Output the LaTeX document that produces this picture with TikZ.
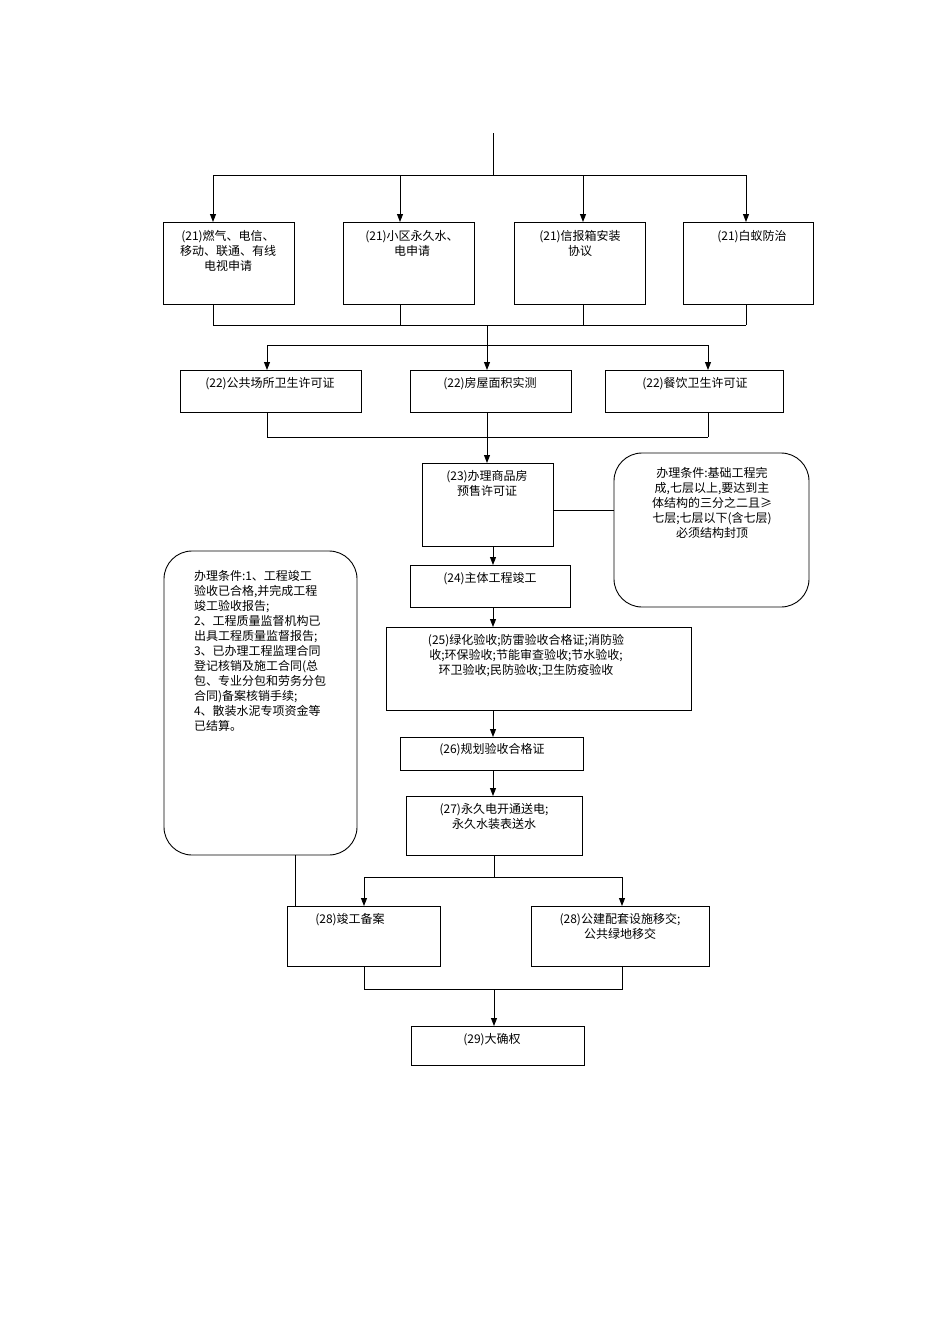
\documentclass[tikz,border=0pt]{standalone}
\usepackage{fontspec}
\setmainfont{Noto Sans CJK SC}
\usetikzlibrary{arrows.meta}
\begin{document}
\begin{tikzpicture}[x=1pt,y=-1pt,line width=0.9pt,
  box/.style={draw,inner sep=0},
  txt/.style={anchor=north,align=center,font=\fontsize{12}{15}\selectfont,inner sep=0},
  arr/.style={-{Triangle[length=8pt,width=6pt]}},
  rbox/.style={draw,rounded corners=28pt}]
\useasboundingbox (0,0) rectangle (950,1344);
% boxes
\draw (163,222) rectangle (294,304) coordinate (b21a);
\draw (343,222) rectangle (474,304);
\draw (514,222) rectangle (645,304);
\draw (683,222) rectangle (813,304);
\node[txt] at (228,230) {(21)燃气、电信、\\移动、联通、有线\\电视申请};
\node[txt] at (412,230) {(21)小区永久水、\\电申请};
\node[txt] at (580,230) {(21)信报箱安装\\协议};
\node[txt] at (752,230) {(21)白蚁防治};
\draw (180,370) rectangle (361,412);
\draw (410,370) rectangle (571,412);
\draw (605,370) rectangle (783,412);
\node[txt] at (270,377) {(22)公共场所卫生许可证};
\node[txt] at (490,377) {(22)房屋面积实测};
\node[txt] at (695,377) {(22)餐饮卫生许可证};
\draw (422,463) rectangle (553,546);
\node[txt] at (487,470) {(23)办理商品房\\预售许可证};
\draw[rbox] (614,453) rectangle (809,607);
\node[txt] at (712,467) {办理条件:基础工程完\\成,七层以上,要达到主\\体结构的三分之二且≥\\七层;七层以下(含七层)\\必须结构封顶};
\draw (410,565) rectangle (570,607);
\node[txt] at (490,572) {(24)主体工程竣工};
\draw (386,627) rectangle (691,710);
\node[txt] at (526,634) {(25)绿化验收;防雷验收合格证;消防验\\收;环保验收;节能审查验收;节水验收;\\环卫验收;民防验收;卫生防疫验收};
\draw (400,737) rectangle (583,770);
\node[txt] at (492,743) {(26)规划验收合格证};
\draw (406,796) rectangle (582,855);
\node[txt] at (494,803) {(27)永久电开通送电;\\永久水装表送水};
\draw[rbox] (164,551) rectangle (357,855);
\node[txt,align=left] at (260,570) {办理条件:1、工程竣工\\验收已合格,并完成工程\\竣工验收报告;\\2、工程质量监督机构已\\出具工程质量监督报告;\\3、已办理工程监理合同\\登记核销及施工合同(总\\包、专业分包和劳务分包\\合同)备案核销手续;\\4、散装水泥专项资金等\\已结算。};
\draw (287,906) rectangle (440,966);
\node[txt] at (350,913) {(28)竣工备案};
\draw (531,906) rectangle (709,966);
\node[txt] at (620,913) {(28)公建配套设施移交;\\公共绿地移交};
\draw (411,1026) rectangle (584,1065);
\node[txt] at (492,1033) {(29)大确权};
% connectors
\draw (493,133) -- (493,175);
\draw (213,175) -- (746,175);
\foreach \x in {213,400,583,746} \draw[arr] (\x,175) -- (\x,222);
\foreach \x in {213,400,583,746} \draw (\x,304) -- (\x,325);
\draw (213,325) -- (746,325);
\draw (487,325) -- (487,345);
\draw (267,345) -- (708,345);
\foreach \x in {267,487,708} \draw[arr] (\x,345) -- (\x,370);
\foreach \x in {267,487,708} \draw (\x,412) -- (\x,437);
\draw (267,437) -- (708,437);
\draw[arr] (487,437) -- (487,463);
\draw (553,510) -- (614,510);
\draw[arr] (493,546) -- (493,565);
\draw[arr] (493,607) -- (493,627);
\draw[arr] (493,710) -- (493,737);
\draw[arr] (493,770) -- (493,796);
\draw (494,855) -- (494,877);
\draw (364,877) -- (622,877);
\draw[arr] (364,877) -- (364,906);
\draw[arr] (622,877) -- (622,906);
\draw (295,855) -- (295,906);
\draw (364,966) -- (364,989) -- (622,989) -- (622,966);
\draw[arr] (494,989) -- (494,1026);
\end{tikzpicture}
\end{document}
